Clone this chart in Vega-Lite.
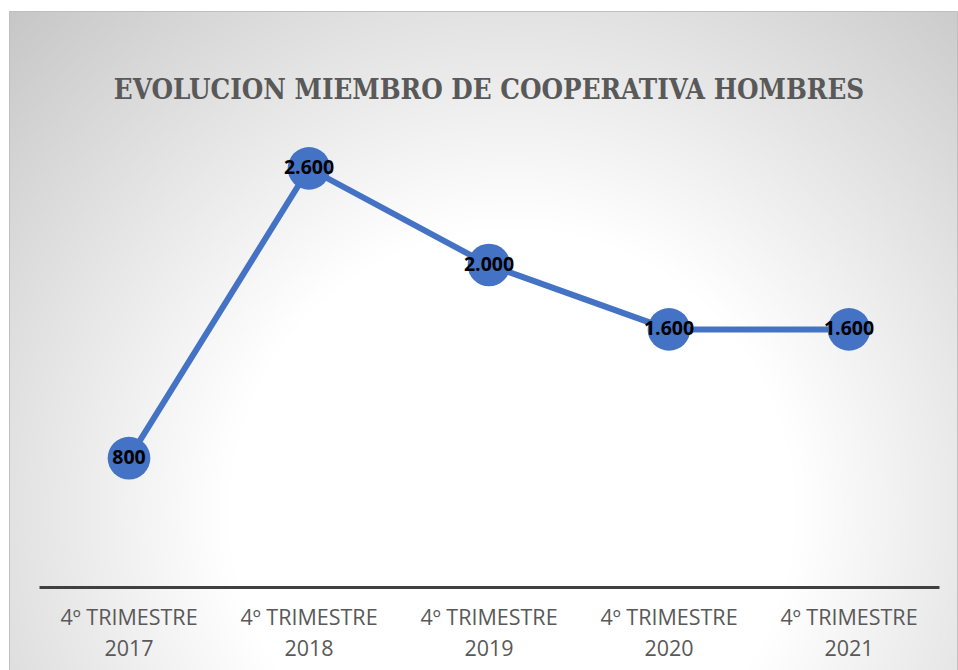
{
  "$schema": "https://vega.github.io/schema/vega-lite/v6.json",
  "autosize": {"type": "none"},
  "padding": {"left": 9, "top": 11, "right": 1, "bottom": 0},
  "width": 948,
  "height": 659,
  "background": "#ffffff",
  "title": {
    "text": "EVOLUCION MIEMBRO DE COOPERATIVA HOMBRES",
    "font": "DejaVu Serif Condensed",
    "fontSize": 27.5,
    "fontWeight": "bold",
    "color": "#595959",
    "anchor": "middle",
    "baseline": "alphabetic",
    "offset": -115,
    "dx": 6
  },
  "config": {
    "locale": {"number": {"decimal": ",", "thousands": ".", "grouping": [3], "currency": ["", " €"]}},
    "view": {
      "stroke": "#bfbfbf",
      "strokeWidth": 1,
      "fill": {
        "gradient": "radial",
        "x1": 0.53, "y1": 0.68, "r1": 0,
        "x2": 0.53, "y2": 0.68, "r2": 0.78,
        "stops": [
          {"offset": 0, "color": "#ffffff"},
          {"offset": 0.38, "color": "#ffffff"},
          {"offset": 1, "color": "#c2c2c2"}
        ]
      }
    }
  },
  "data": {
    "values": [
      {"periodo": "4º TRIMESTRE 2017", "miembros": 800},
      {"periodo": "4º TRIMESTRE 2018", "miembros": 2600},
      {"periodo": "4º TRIMESTRE 2019", "miembros": 2000},
      {"periodo": "4º TRIMESTRE 2020", "miembros": 1600},
      {"periodo": "4º TRIMESTRE 2021", "miembros": 1600}
    ]
  },
  "encoding": {
    "x": {
      "field": "periodo",
      "type": "nominal",
      "sort": null,
      "scale": {"type": "band", "range": [30, 930], "paddingInner": 0, "paddingOuter": 0},
      "axis": {
        "title": null,
        "orient": "bottom",
        "offset": -83,
        "labelAngle": 0,
        "labelExpr": "[substring(datum.label, 0, 12), substring(datum.label, 13)]",
        "labelFont": "Open Sans",
        "labelFontSize": 21.5,
        "labelColor": "#595959",
        "labelLineHeight": 31,
        "labelPadding": 20,
        "ticks": false,
        "domainColor": "#404040",
        "domainWidth": 3,
        "grid": false
      }
    },
    "y": {
      "field": "miembros",
      "type": "quantitative",
      "scale": {"domain": [0, 3000], "range": [576, 93], "nice": false, "zero": true},
      "axis": null
    }
  },
  "layer": [
    {"mark": {"type": "line", "color": "#4472C4", "strokeWidth": 6}},
    {"mark": {"type": "circle", "color": "#4472C4", "opacity": 1, "size": 1820}},
    {
      "mark": {"type": "text", "font": "Open Sans", "fontSize": 19.5, "fontWeight": "bold", "color": "#000000", "baseline": "middle", "align": "center"},
      "encoding": {"text": {"field": "miembros", "type": "quantitative", "format": ",d"}}
    }
  ]
}
